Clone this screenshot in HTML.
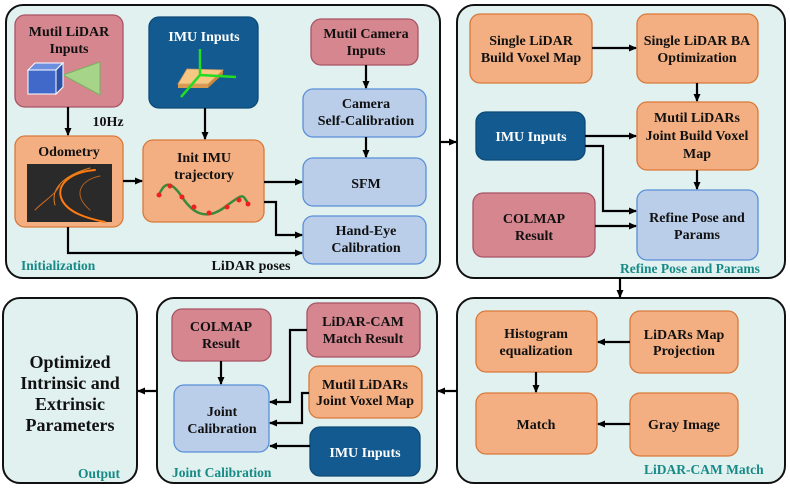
<!DOCTYPE html>
<html><head><meta charset="utf-8"><style>
html,body{margin:0;padding:0;background:#fff}
svg text{font-family:"Liberation Serif",serif;font-weight:bold}
</style></head><body>
<svg width="790" height="490" viewBox="0 0 790 490" xmlns="http://www.w3.org/2000/svg">
<defs>
<marker id="a" markerWidth="8" markerHeight="8" refX="7" refY="4" orient="auto" markerUnits="userSpaceOnUse"><path d="M0,0.5 L8,4 L0,7.5 Z" fill="#000"/></marker>
</defs>
<g fill="#e1f1f0" stroke="#111" stroke-width="2">
<rect x="6" y="5" width="434" height="273" rx="17"/>
<rect x="457" y="5" width="328" height="273" rx="17"/>
<rect x="3" y="298" width="134" height="185" rx="17"/>
<rect x="157" y="298" width="280" height="185" rx="17"/>
<rect x="457" y="298" width="328" height="185" rx="17"/>
</g>
<g stroke-width="1.3">
<g fill="#d6868f" stroke="#a85466">
<rect x="15" y="15" width="108" height="92" rx="10"/>
<rect x="311" y="19" width="107" height="46" rx="10"/>
<rect x="473" y="193" width="122" height="64" rx="10"/>
<rect x="172" y="309" width="99" height="52" rx="10"/>
<rect x="307" y="303" width="113" height="54" rx="10"/>
</g>
<g fill="#125a8f" stroke="#0d4a78">
<rect x="149" y="17" width="109" height="91" rx="10"/>
<rect x="476" y="112" width="109" height="48" rx="10"/>
<rect x="310" y="427" width="110" height="49" rx="10"/>
</g>
<g fill="#bacee9" stroke="#5a8fd8">
<rect x="303" y="89" width="123" height="48" rx="10"/>
<rect x="303" y="158" width="123" height="48" rx="10"/>
<rect x="303" y="216" width="123" height="48" rx="10"/>
<rect x="637" y="190" width="121" height="70" rx="10"/>
<rect x="174" y="385" width="95" height="67" rx="10"/>
</g>
<g fill="#f3af82" stroke="#d9793a">
<rect x="15" y="136" width="108" height="91" rx="10"/>
<rect x="143" y="140" width="121" height="82" rx="10"/>
<rect x="470" y="14" width="122" height="69" rx="10"/>
<rect x="637" y="14" width="121" height="69" rx="10"/>
<rect x="637" y="102" width="121" height="68" rx="10"/>
<rect x="476" y="311" width="121" height="61" rx="10"/>
<rect x="630" y="311" width="108" height="62" rx="10"/>
<rect x="476" y="393" width="121" height="61" rx="10"/>
<rect x="630" y="393" width="108" height="63" rx="10"/>
<rect x="309" y="366" width="113" height="52" rx="10"/>
</g>
</g>
<!-- lidar icon -->
<polygon points="63,75 100,62 100,95" fill="#a6d58a" stroke="#7bb060"/>
<polygon points="28,70 56,70 63,63 35,63" fill="#6d8fe0" stroke="#fff" stroke-width="1"/>
<polygon points="56,70 63,63 63,87 56,94" fill="#2c4fa8" stroke="#fff" stroke-width="1"/>
<rect x="28" y="70" width="28" height="24" fill="#4169c9" stroke="#fff" stroke-width="1"/>
<!-- imu icon -->
<polygon points="178,84 208,84 208,88 178,88" fill="#d89a50"/>
<polygon points="208,84 223,70 223,74 208,88" fill="#c9883e"/>
<polygon points="187,69 223,70 208,84 178,84" fill="#f7c784" stroke="#d9a060" stroke-width="0.8"/>
<g stroke="#22dd22" stroke-width="2.5" fill="none"><path d="M200,49 V75 L181,97 M200,75 L236,77"/></g>
<!-- odometry image -->
<rect x="27" y="164" width="85" height="58" fill="#2a2a2a"/>
<g fill="none" stroke-linecap="round">
<path d="M95,170 C70,172 55,185 62,200 C68,212 85,218 105,222" stroke="#ff7a10" stroke-width="2"/>
<path d="M90,168 C65,175 50,188 55,205" stroke="#e2801c" stroke-width="1"/>
<path d="M100,176 C80,180 72,195 90,210" stroke="#b06020" stroke-width="1"/>
<path d="M35,210 C45,200 55,195 60,185" stroke="#d06a20" stroke-width="1"/>
</g>
<!-- trajectory -->
<path d="M159,195 C165,180 172,182 182,197 S205,222 225,207 S242,195 248,203" fill="none" stroke="#3a8a3a" stroke-width="2.5"/>
<g fill="#f02020"><circle cx="159" cy="195" r="2.5"/><circle cx="170" cy="186" r="2.5"/><circle cx="182" cy="197" r="2.5"/><circle cx="194" cy="207" r="2.5"/><circle cx="209" cy="213" r="2.5"/><circle cx="227" cy="207" r="2.5"/><circle cx="239" cy="200" r="2.5"/><circle cx="248" cy="204" r="2.5"/></g>
<g stroke="#000" stroke-width="2.2" fill="none" marker-end="url(#a)">
<path d="M68,107 V135"/>
<path d="M205,108 V139"/>
<path d="M123,181 H142"/>
<path d="M264,182 H302"/>
<path d="M264,202 H276 V235 H302"/>
<path d="M68,227 V253 H302"/>
<path d="M366,65 V88"/>
<path d="M366,137 V157"/>
<path d="M440,142 H456"/>
<path d="M592,48 H636"/>
<path d="M697,83 V101"/>
<path d="M585,136 H636"/>
<path d="M585,146 H603 V211 H636"/>
<path d="M595,226 H636"/>
<path d="M697,170 V189"/>
<path d="M620,278 V297"/>
<path d="M630,342 H598"/>
<path d="M536,372 V392"/>
<path d="M630,424 H598"/>
<path d="M457,391 H438"/>
<path d="M221,361 V384"/>
<path d="M307,330 H290 V402 H270"/>
<path d="M309,393 H302 V423 H270"/>
<path d="M310,446 H270"/>
<path d="M157,391 H138"/>
</g>
<g font-size="14" text-anchor="middle" fill="#111">
<text x="69" y="36">Mutil LiDAR</text><text x="69" y="53">Inputs</text>
<text x="366" y="38">Mutil Camera</text><text x="366" y="55">Inputs</text>
<text x="366" y="108">Camera</text><text x="366" y="125">Self-Calibration</text>
<text x="366" y="188">SFM</text>
<text x="366" y="235">Hand-Eye</text><text x="366" y="252">Calibration</text>
<text x="69" y="156">Odometry</text>
<text x="204" y="162">Init IMU</text><text x="204" y="179">trajectory</text>
<text x="108" y="126">10Hz</text>
<text x="251" y="270">LiDAR poses</text>
<text x="531" y="45">Single LiDAR</text><text x="531" y="62">Build Voxel Map</text>
<text x="697" y="45">Single LiDAR BA</text><text x="697" y="62">Optimization</text>
<text x="697" y="122">Mutil LiDARs</text><text x="697" y="140">Joint Build Voxel</text><text x="697" y="158">Map</text>
<text x="534" y="223">COLMAP</text><text x="534" y="240">Result</text>
<text x="697" y="222">Refine Pose and</text><text x="697" y="239">Params</text>
<text x="536" y="338">Histogram</text><text x="536" y="355">equalization</text>
<text x="684" y="339">LiDARs Map</text><text x="684" y="355">Projection</text>
<text x="536" y="429">Match</text>
<text x="684" y="429">Gray Image</text>
<text x="221" y="331">COLMAP</text><text x="221" y="348">Result</text>
<text x="363" y="326">LiDAR-CAM</text><text x="363" y="343">Match Result</text>
<text x="365" y="389">Mutil LiDARs</text><text x="365" y="405">Joint Voxel Map</text>
<text x="222" y="416">Joint</text><text x="222" y="433">Calibration</text>
</g>
<g font-size="14" text-anchor="middle" fill="#fff">
<text x="204" y="41">IMU Inputs</text>
<text x="531" y="141">IMU Inputs</text>
<text x="365" y="457">IMU Inputs</text>
</g>
<g font-size="18" text-anchor="middle" fill="#111">
<text x="70" y="368">Optimized</text><text x="70" y="389">Intrinsic and</text><text x="70" y="410">Extrinsic</text><text x="70" y="431">Parameters</text>
</g>
<g font-size="13.5" fill="#178a86">
<text x="21" y="270">Initialization</text>
<text x="620" y="273">Refine Pose and Params</text>
<text x="644" y="474">LiDAR-CAM Match</text>
<text x="172" y="477">Joint Calibration</text>
<text x="78" y="478">Output</text>
</g>
</svg>
</body></html>
